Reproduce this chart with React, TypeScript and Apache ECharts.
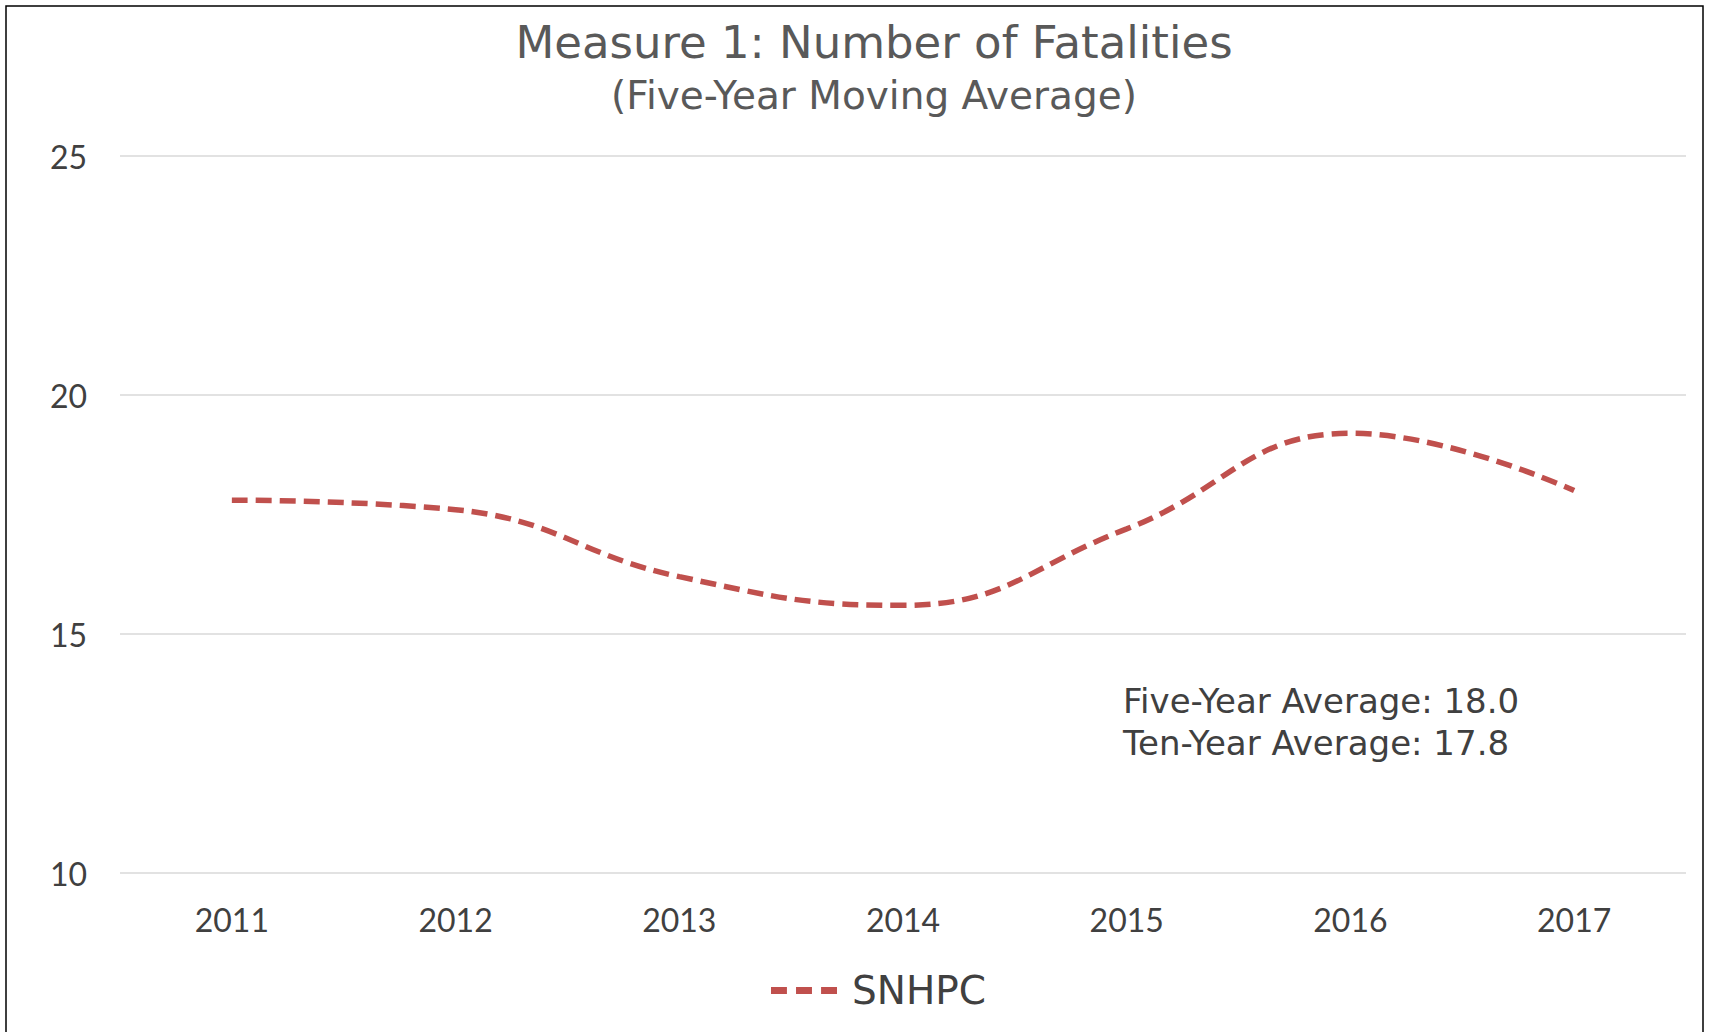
import React, { useEffect, useRef } from "react";
import * as echarts from "echarts";

const years = ["2011", "2012", "2013", "2014", "2015", "2016", "2017"];
const snhpc = [17.8, 17.6, 16.2, 15.6, 17.2, 19.2, 18.0];
const yTicks = { min: 10, max: 25, interval: 5 };
const titleText = "Measure 1: Number of Fatalities";
const subtitleText = "(Five-Year Moving Average)";
const noteLines = ["Five-Year Average: 18.0", "Ten-Year Average: 17.8"];
const seriesName = "SNHPC";

const FONT = "'DejaVu Sans', sans-serif";
const AXFONT = "Lato, sans-serif";

export default function App() {
  const ref = useRef<HTMLDivElement>(null);
  useEffect(() => {
    if (!ref.current) return;
    const chart = echarts.init(ref.current, null, { renderer: "svg" });
    chart.setOption({
      animation: false,
      backgroundColor: "#ffffff",
      legend: {
        data: [
          {
            name: seriesName,
            icon: "path://M0,0h14v6h-14z M22,0h14v6h-14z M44,0h14v6h-14z",
          },
        ],
        left: 766,
        top: 966,
        itemWidth: 66,
        itemHeight: 7,
        itemGap: 12,
        itemStyle: { color: "#C0504D" },
        textStyle: { fontFamily: FONT, fontSize: 39, color: "#404040", padding: [0, 0, 0, 10] },
      },
      grid: { left: 120, right: 23, top: 156, bottom: 159 },
      xAxis: {
        type: "category",
        data: years,
        boundaryGap: true,
        axisLine: { show: false },
        axisTick: { show: false },
        axisLabel: { fontFamily: AXFONT, fontSize: 32, color: "#404040", margin: 30 },
      },
      yAxis: {
        type: "value",
        min: yTicks.min,
        max: yTicks.max,
        interval: yTicks.interval,
        axisLine: { show: false },
        axisTick: { show: false },
        axisLabel: { fontFamily: AXFONT, fontSize: 32, color: "#404040", margin: 33 },
        splitLine: { lineStyle: { color: "#D9D9D9", width: 1.5 } },
      },
      series: [
        {
          name: seriesName,
          type: "line",
          data: snhpc,
          smooth: 0.45,
          symbol: "none",
          lineStyle: { color: "#C0504D", width: 5.5, type: [16, 8] },
          itemStyle: { color: "#C0504D" },
        },
      ],
      graphic: [
        {
          type: "rect",
          shape: { x: 6, y: 6, width: 1697, height: 1040 },
          style: { fill: "none", stroke: "#000000", lineWidth: 1.5 },
          silent: true,
        },
        {
          type: "text",
          x: 874,
          y: 42,
          style: {
            text: titleText,
            fontFamily: FONT,
            fontSize: 45,
            fill: "#595959",
            align: "center",
            verticalAlign: "middle",
          },
        },
        {
          type: "text",
          x: 874,
          y: 95,
          style: {
            text: subtitleText,
            fontFamily: FONT,
            fontSize: 39,
            fill: "#595959",
            align: "center",
            verticalAlign: "middle",
          },
        },
        {
          type: "text",
          left: 1123,
          top: 680,
          style: {
            text: noteLines.join("\n"),
            fontFamily: FONT,
            fontSize: 34,
            lineHeight: 42,
            fill: "#404040",
          },
        },
      ],
    });
    return () => chart.dispose();
  }, []);
  return (
    <div
      ref={ref}
      style={{ position: "fixed", left: 0, top: 0, width: 1709, height: 1032 }}
    />
  );
}
